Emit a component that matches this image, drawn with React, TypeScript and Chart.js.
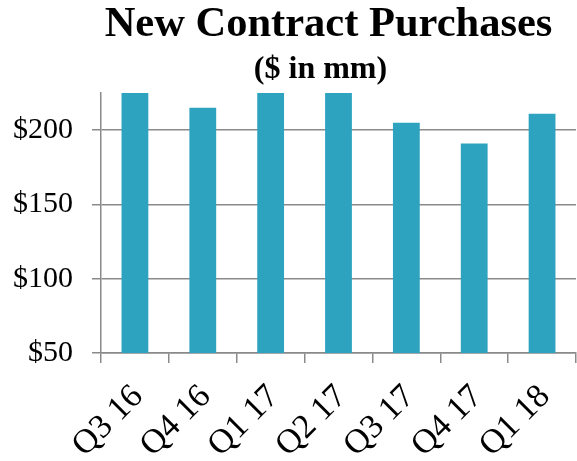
import React, { useEffect, useRef } from "react";
import { Chart, registerables } from "chart.js";

Chart.register(...registerables);

const categories: string[] = ["Q3 16", "Q4 16", "Q1 17", "Q2 17", "Q3 17", "Q4 17", "Q1 18"];
const purchases: number[] = [232, 215, 236, 234, 205, 191, 211];
const yTicks: number[] = [50, 100, 150, 200];
const titleText = "New Contract Purchases";
const subtitleText = "($ in mm)";

const FONT = "'Liberation Serif', 'Times New Roman', serif";

const titlePlugin = {
  id: "customTitle",
  afterDraw(chart: any) {
    const ctx = chart.ctx;
    ctx.save();
    ctx.fillStyle = "#000";
    ctx.textAlign = "center";
    ctx.textBaseline = "alphabetic";
    ctx.font = `bold 42.5px ${FONT}`;
    ctx.fillText(titleText, 328.5, 36);
    ctx.font = `bold 32px ${FONT}`;
    ctx.fillText(subtitleText, 320.5, 78);
    ctx.restore();
  },
};

export default function App() {
  const ref = useRef<HTMLCanvasElement | null>(null);
  useEffect(() => {
    if (!ref.current) return;
    const chart = new Chart(ref.current, {
      type: "bar",
      data: {
        labels: categories,
        datasets: [
          {
            data: purchases,
            backgroundColor: "#2ea3c0",
            borderWidth: 0,
            barPercentage: 0.395,
            categoryPercentage: 1,
          },
        ],
      },
      options: {
        responsive: false,
        animation: false,
        layout: { padding: { top: 93, right: 1, left: 0, bottom: 0 } },
        plugins: { legend: { display: false }, tooltip: { enabled: false }, title: { display: false } },
        scales: {
          x: {
            grid: {
              display: true,
              drawOnChartArea: false,
              drawTicks: true,
              tickLength: 10,
              color: "#8a8a8a",
              lineWidth: 1.5,
              offset: true,
            },
            border: { display: true, color: "#8a8a8a", width: 1.5 },
            ticks: {
              maxRotation: 45,
              minRotation: 45,
              autoSkip: false,
              padding: 14,
              labelOffset: 3,
              color: "#000",
              font: { family: FONT, size: 34 },
            },
            afterFit(scale: any) {
              scale.height = 108;
              scale.paddingLeft = 0;
              scale.paddingRight = 0;
            },
          },
          y: {
            min: 50,
            max: 225,
            afterBuildTicks(scale: any) {
              scale.ticks = yTicks.map((v) => ({ value: v }));
            },
            grid: {
              color: "#8a8a8a",
              lineWidth: 1.5,
              tickLength: 9,
              drawTicks: true,
            },
            border: { display: true, color: "#8a8a8a", width: 1.5 },
            ticks: {
              padding: 19,
              color: "#000",
              font: { family: FONT, size: 30 },
              callback: (v: any) => "$" + v,
            },
            afterFit(scale: any) {
              scale.width = 101;
              scale.paddingTop = 0;
              scale.paddingBottom = 0;
            },
          },
        },
      },
      plugins: [titlePlugin],
    });
    return () => chart.destroy();
  }, []);
  return (
    <div style={{ position: "fixed", left: 0, top: 0, width: 577, height: 461, background: "#fff" }}>
      <canvas ref={ref} width={577} height={461} style={{ display: "block" }} />
    </div>
  );
}
